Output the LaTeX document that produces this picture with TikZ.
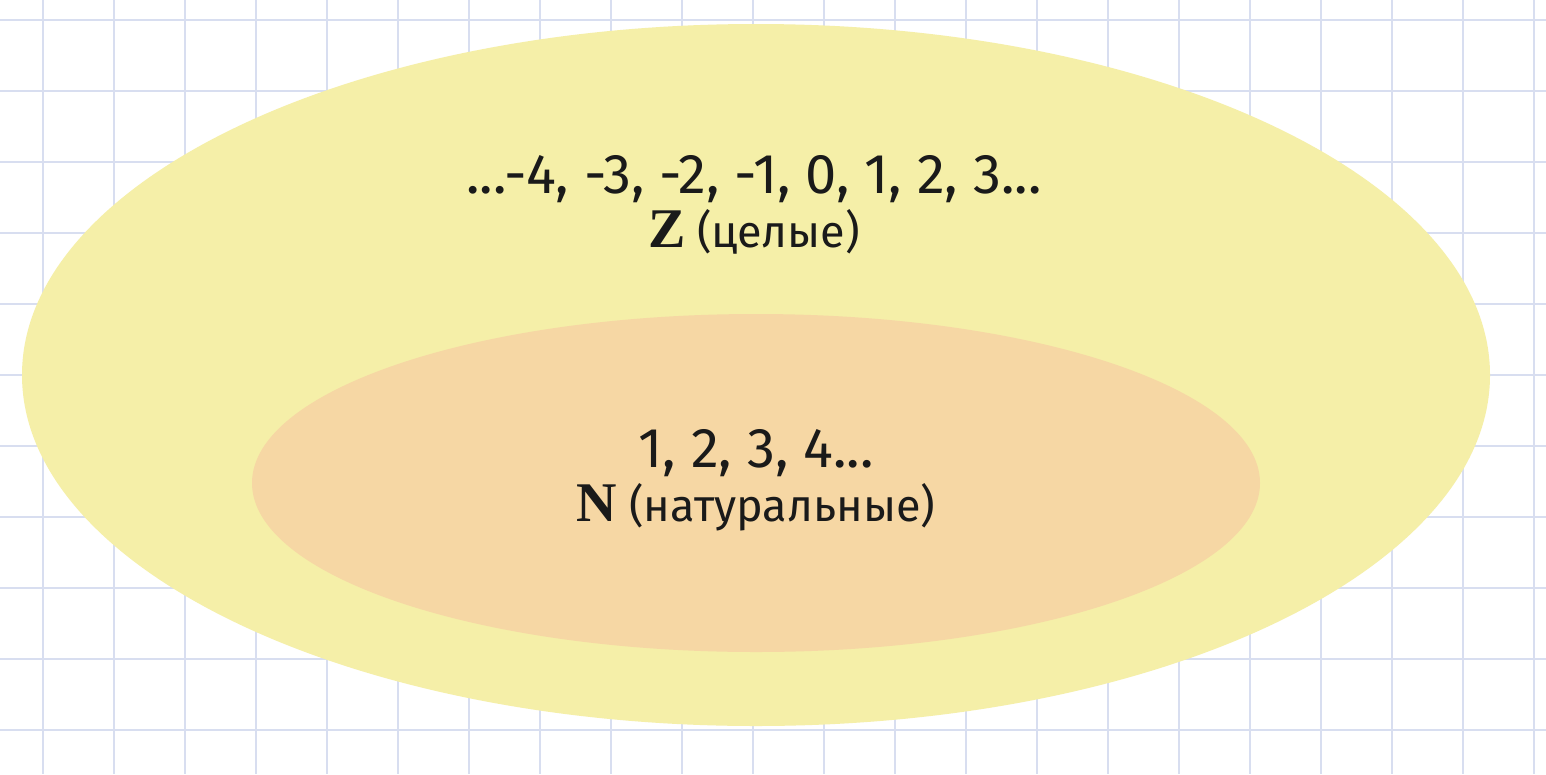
\documentclass[tikz,border=0pt]{standalone}
\usepackage{fontspec}
\usepackage{tikz}
\usetikzlibrary{positioning}
\newfontfamily\handfont{Fira Sans}
\newfontfamily\letterfont{Liberation Serif}
\definecolor{gridline}{RGB}{216,222,240}
\definecolor{setZ}{RGB}{245,239,168}
\definecolor{setN}{RGB}{246,215,164}
\definecolor{ink}{RGB}{26,26,26}

\begin{document}
\begin{tikzpicture}[
                  x=1pt,y=-1pt,
                  grid/.style={draw=gridline,line width=2.2pt},
                  nums/.style={text=ink,inner sep=0pt,font=\handfont\fontsize{56}{56}\selectfont},
                  setname/.style={text=ink,inner sep=0pt,font=\handfont\fontsize{45}{45}\selectfont}
                ]
                \useasboundingbox[fill=white] (0,0) rectangle (1546,774);
                % squared paper
                \foreach \gx in {0,...,21} \draw[grid] ({43+71*\gx},0) -- ({43+71*\gx},774);
                \foreach \gy in {0,...,10} \draw[grid] (0,{20+71*\gy}) -- (1546,{20+71*\gy});
                
                \fill[setZ] (756,375) ellipse [x radius=734, y radius=351];
                \fill[setN] (756,483) ellipse [x radius=504, y radius=169];
                
                \node[nums] (zvals) at (754,179) {...-4, -3, -2, -1, 0, 1, 2, 3...};
                \node[setname,below=6pt of zvals] (zname) {{\letterfont\bfseries\fontsize{56}{45}\selectfont Z} (целые)};
                \node[nums] (nvals) at (756,453) {1, 2, 3, 4...};
                \node[setname,below=6pt of nvals] (nname) {{\letterfont\bfseries\fontsize{56}{45}\selectfont N} (натуральные)};
                \end{tikzpicture}
\end{document}
